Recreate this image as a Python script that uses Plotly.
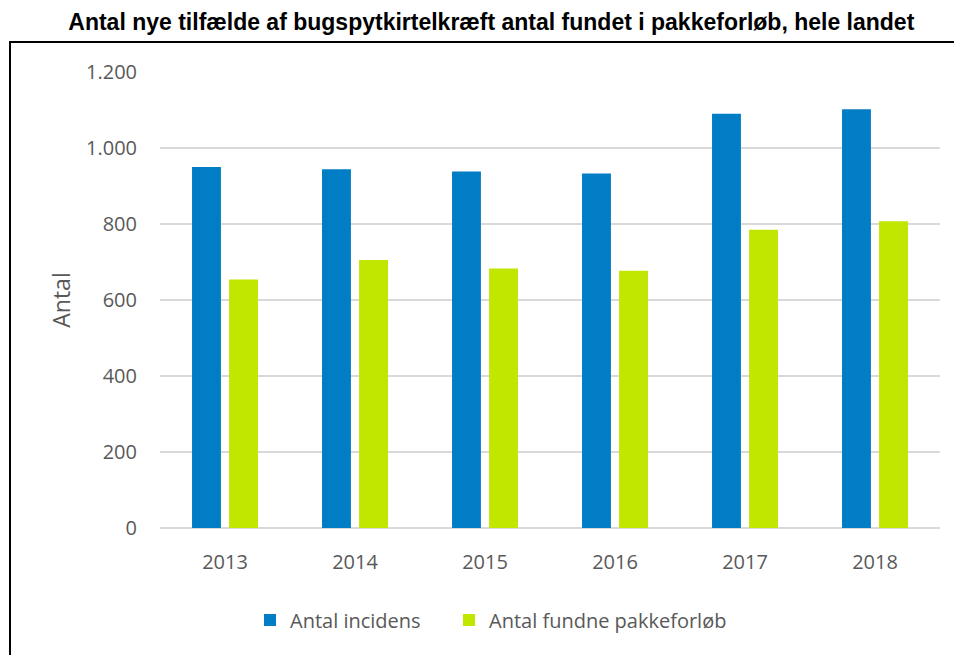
import plotly.graph_objects as go

years = ["2013", "2014", "2015", "2016", "2017", "2018"]
incidens = [950, 944, 938, 933, 1090, 1102]
pakkeforloeb = [654, 705, 683, 677, 785, 807]
y_ticks = [0, 200, 400, 600, 800, 1000, 1200]
y_tick_labels = ["0", "200", "400", "600", "800", "1.000", "1.200"]

fig = go.Figure()
fig.add_trace(go.Bar(x=years, y=incidens, name="Antal incidens",
                     marker=dict(color="#007DC5", line=dict(width=0)), legend="legend"))
fig.add_trace(go.Bar(x=years, y=pakkeforloeb, name="Antal fundne pakkeforløb",
                     marker=dict(color="#C1E600", line=dict(width=0)), legend="legend2"))

L, R, T, B = 160, 14, 72, 127
W, H = 954, 655
pw, ph = W - L - R, H - T - B

def px_x(x):
    return (x - L) / pw

def px_y(y):
    return (H - B - y) / ph

leg_common = dict(orientation="h", yanchor="middle", y=px_y(620), xanchor="left",
                  font=dict(size=20, color="#595959"), itemwidth=30, bgcolor="rgba(0,0,0,0)")

fig.update_layout(
    width=W, height=H,
    margin=dict(l=L, r=R, t=T, b=B),
    paper_bgcolor="white", plot_bgcolor="white",
    barmode="group", bargap=0.43, bargroupgap=0.22,
    font=dict(family="Open Sans, sans-serif", color="#595959", size=20),
    title=dict(text="<b>Antal nye tilfælde af bugspytkirtelkræft antal fundet i pakkeforløb, hele landet</b>",
               x=0.515, xanchor="center", y=1 - 22 / H, yanchor="middle",
               font=dict(family="Liberation Sans", size=23, color="black")),
    showlegend=True,
    legend=dict(x=px_x(250), **leg_common),
    legend2=dict(x=px_x(449), **leg_common),
    xaxis=dict(showgrid=False, showline=False, ticks="", tickfont=dict(size=20),
               ticklabelstandoff=20),
    yaxis=dict(range=[0, 1200], tickvals=y_ticks, ticktext=y_tick_labels,
               showgrid=True, gridcolor="#D9D9D9", gridwidth=1.5,
               zeroline=True, zerolinecolor="#D9D9D9", zerolinewidth=1.5,
               showline=False, ticks="", ticklabelstandoff=22,
               tickfont=dict(size=20),
               title=dict(text="Antal", font=dict(size=23, color="#595959"), standoff=8)),
    shapes=[dict(type="rect", xref="paper", yref="paper",
                 x0=px_x(10), x1=px_x(962), y0=px_y(662), y1=px_y(42),
                 line=dict(color="black", width=2), fillcolor="rgba(0,0,0,0)", layer="above")],
)

fig.write_html("out.html", config={"displayModeBar": False},
               post_script="document.body.style.margin='0';")
